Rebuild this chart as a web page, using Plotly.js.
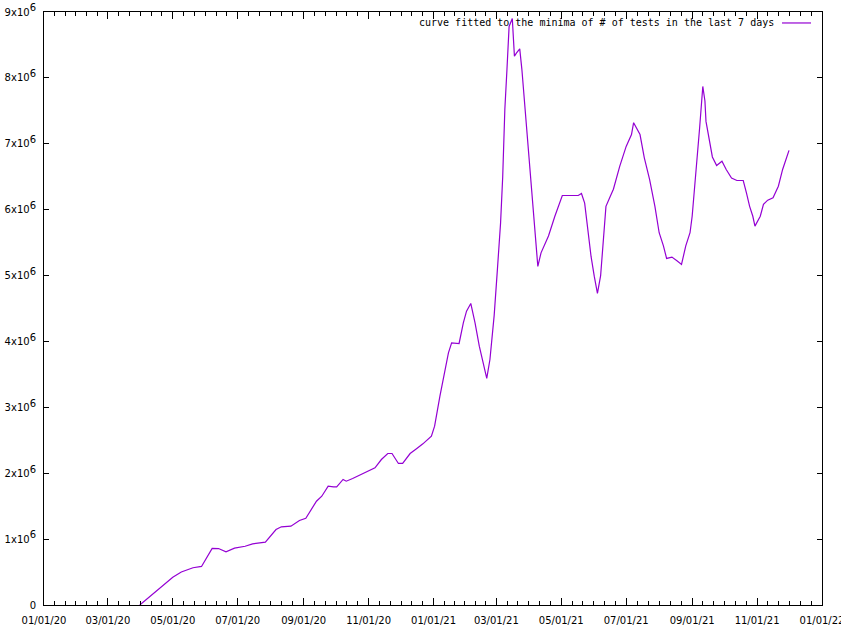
<!DOCTYPE html>
<html>
<head>
<meta charset="utf-8">
<script src="https://cdn.plot.ly/plotly-3.0.1.min.js"></script>
<style>html,body{margin:0;padding:0;background:#fff;}#chart{width:841px;height:633px;}</style>
</head>
<body>
<div id="chart"></div>
<script>
// Dates of the fitted curve's vertices
const dates = [
 '2020-03-31','2020-04-16','2020-05-01','2020-05-09','2020-05-20','2020-05-28','2020-06-07','2020-06-13',
 '2020-06-20','2020-06-28','2020-07-08','2020-07-15','2020-07-27','2020-08-06','2020-08-11','2020-08-20',
 '2020-08-28','2020-09-03','2020-09-13','2020-09-18','2020-09-24','2020-09-29','2020-10-02','2020-10-08',
 '2020-10-11','2020-10-17','2020-11-02','2020-11-07','2020-11-13','2020-11-19','2020-11-23','2020-11-29',
 '2020-12-03','2020-12-10','2020-12-16','2020-12-22','2020-12-30','2021-01-02','2021-01-07','2021-01-11',
 '2021-01-15','2021-01-18','2021-01-25','2021-01-29','2021-02-01','2021-02-05','2021-02-09','2021-02-13',
 '2021-02-16','2021-02-20','2021-02-23','2021-02-27','2021-03-02','2021-03-05','2021-03-07','2021-03-09',
 '2021-03-11','2021-03-13','2021-03-16','2021-03-17','2021-03-18','2021-03-20','2021-03-23','2021-03-25',
 '2021-03-28','2021-03-31','2021-04-03','2021-04-06','2021-04-08','2021-04-09','2021-04-12','2021-04-19',
 '2021-04-25','2021-04-29','2021-05-02','2021-05-17','2021-05-20','2021-05-23','2021-05-26','2021-05-29',
 '2021-06-01','2021-06-04','2021-06-07','2021-06-09','2021-06-12','2021-06-16','2021-06-19','2021-06-25',
 '2021-07-01','2021-07-06','2021-07-08','2021-07-14','2021-07-18','2021-07-23','2021-07-28','2021-08-01',
 '2021-08-05','2021-08-08','2021-08-13','2021-08-18','2021-08-22','2021-08-26','2021-08-30','2021-09-01',
 '2021-09-03','2021-09-05','2021-09-08','2021-09-11','2021-09-13','2021-09-14','2021-09-17','2021-09-20',
 '2021-09-24','2021-09-29','2021-10-03','2021-10-08','2021-10-13','2021-10-19','2021-10-22','2021-10-25',
 '2021-10-28','2021-10-30','2021-11-04','2021-11-07','2021-11-11','2021-11-16','2021-11-21','2021-11-25',
 '2021-12-01'
];
// Values in millions of tests
const testsMillions = [
 0.0,0.21,0.42,0.50,0.565,0.585,0.86,0.857,
 0.807,0.862,0.892,0.928,0.953,1.146,1.187,1.196,
 1.282,1.317,1.575,1.651,1.803,1.794,1.794,1.905,
 1.879,1.92,2.046,2.082,2.208,2.299,2.299,2.148,
 2.148,2.299,2.371,2.446,2.562,2.714,3.169,3.524,
 3.828,3.979,3.969,4.283,4.459,4.576,4.283,3.928,
 3.70,3.438,3.726,4.40,5.09,5.80,6.50,7.52,
 8.13,8.78,8.90,8.63,8.33,8.38,8.44,8.13,
 7.52,6.86,6.26,5.65,5.29,5.14,5.345,5.60,
 5.90,6.10,6.215,6.215,6.245,6.10,5.70,5.29,
 4.99,4.728,5.00,5.395,6.05,6.20,6.31,6.66,
 6.96,7.14,7.32,7.14,6.79,6.46,6.05,5.65,
 5.45,5.26,5.28,5.22,5.17,5.45,5.65,5.90,
 6.26,6.71,7.24,7.87,7.65,7.34,7.04,6.80,
 6.67,6.735,6.61,6.48,6.443,6.443,6.256,6.05,
 5.90,5.75,5.90,6.08,6.144,6.18,6.356,6.61,
 6.90
];
const seriesName = 'curve fitted to the minima of # of tests in the last 7 days';
const xTickDates = ['2020-01-01','2020-03-01','2020-05-01','2020-07-01','2020-09-01','2020-11-01',
  '2021-01-01','2021-03-01','2021-05-01','2021-07-01','2021-09-01','2021-11-01','2022-01-01'];
const xTickLabels = ['01/01/20','03/01/20','05/01/20','07/01/20','09/01/20','11/01/20',
  '01/01/21','03/01/21','05/01/21','07/01/21','09/01/21','11/01/21','01/01/22'];
const yTickVals = [0,1e6,2e6,3e6,4e6,5e6,6e6,7e6,8e6,9e6];
const yMantissas = ['0','1','2','3','4','5','6','7','8','9'];
const yExponent = '6';

const lineColor = '#9400d3';
const values = testsMillions.map(v => v * 1e6);
const yTickLabels = yMantissas.map(m => m === '0' ? '0' :
  m + 'x10<sup><span style="font-size:10px">' + yExponent + '</span></sup>');

// minor ticks: 6 subdivisions of each major interval
const minorVals = [];
for (let i = 0; i < xTickDates.length - 1; i++) {
  const a = new Date(xTickDates[i] + 'T00:00:00Z').getTime();
  const b = new Date(xTickDates[i + 1] + 'T00:00:00Z').getTime();
  for (let k = 1; k < 6; k++) minorVals.push(new Date(a + (b - a) * k / 6).toISOString().slice(0, 19).replace('T', ' '));
}

const tickFont = {family: 'DejaVu Sans', size: 10, color: '#000'};

const trace = {
  x: dates, y: values, type: 'scatter', mode: 'lines',
  line: {color: lineColor, width: 1.2}, name: seriesName, showlegend: false
};

const layout = {
  width: 841, height: 633,
  margin: {l: 44, r: 19, t: 12, b: 28, pad: 0},
  paper_bgcolor: '#fff', plot_bgcolor: '#fff',
  showlegend: false,
  xaxis: {
    type: 'date', range: ['2020-01-01', '2022-01-01'],
    tickmode: 'array', tickvals: xTickDates, ticktext: xTickLabels,
    ticks: 'inside', ticklen: 7, tickwidth: 1, tickcolor: '#000',
    showline: true, linecolor: '#000', linewidth: 1, mirror: 'ticks',
    showgrid: false, zeroline: false, tickfont: tickFont, ticklabelstandoff: 6,
    ticklabeloverflow: 'allow',
    minor: {tickmode: 'array', tickvals: minorVals, ticks: 'inside', ticklen: 4, tickwidth: 1, tickcolor: '#000', showgrid: false}
  },
  yaxis: {
    range: [0, 9e6], tickmode: 'array', tickvals: yTickVals, ticktext: yTickLabels,
    ticks: 'inside', ticklen: 5, tickwidth: 1, tickcolor: '#000',
    showline: true, linecolor: '#000', linewidth: 1, mirror: 'ticks',
    showgrid: false, zeroline: false, tickfont: tickFont, ticklabelstandoff: 5,
    ticklabeloverflow: 'allow'
  },
  annotations: [{
    xref: 'paper', yref: 'paper', x: 0.9409, y: 0.9815, xanchor: 'right', yanchor: 'middle',
    text: seriesName, showarrow: false,
    font: {family: 'DejaVu Sans Mono', size: 10, color: '#000'}
  }],
  shapes: [{
    type: 'line', xref: 'paper', yref: 'paper', x0: 0.9486, x1: 0.9859, y0: 0.9815, y1: 0.9815,
    line: {color: lineColor, width: 1.2}
  }]
};

Plotly.newPlot('chart', [trace], layout, {displayModeBar: false, staticPlot: true});
</script>
</body>
</html>
